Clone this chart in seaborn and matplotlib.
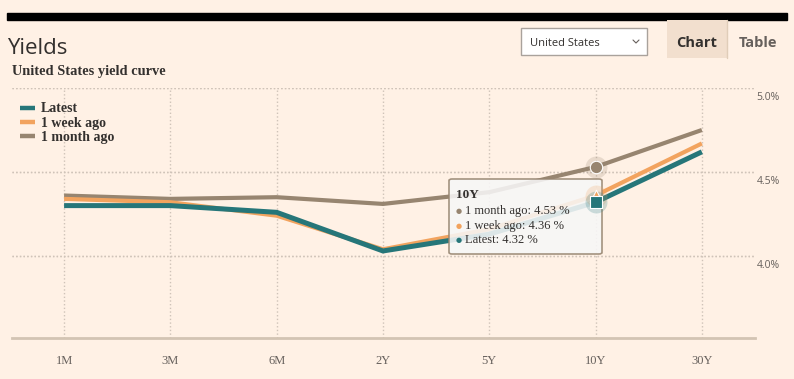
import matplotlib
matplotlib.use('Agg')
import matplotlib.pyplot as plt
import matplotlib.transforms as mtransforms
from matplotlib.patches import Rectangle, FancyBboxPatch
from matplotlib.lines import Line2D
import seaborn as sns
import pandas as pd

MATURITIES = ['1M', '3M', '6M', '2Y', '5Y', '10Y', '30Y']
LATEST = [4.30, 4.30, 4.26, 4.03, 4.13, 4.32, 4.62]
WEEK_AGO = [4.34, 4.32, 4.24, 4.04, 4.16, 4.36, 4.67]
MONTH_AGO = [4.36, 4.34, 4.35, 4.31, 4.38, 4.53, 4.75]
SERIES = ['Latest', '1 week ago', '1 month ago']
YTICKS = [4.0, 4.5, 5.0]
HOVER = '10Y'

BG = '#fff1e5'
COLORS = {'Latest': '#267679', '1 week ago': '#f2a35e', '1 month ago': '#978570'}
TEXT = '#33302e'
GREY = '#66605c'
GRID = '#cfc3b8'
SERIF = 'Liberation Serif'

sns.set_theme(style='white')
plt.rcParams['font.family'] = [SERIF, 'DejaVu Serif']

df = pd.concat([
    pd.DataFrame({'maturity': MATURITIES, 'yield': vals, 'series': name})
    for name, vals in zip(SERIES, [LATEST, WEEK_AGO, MONTH_AGO])
])

fig = plt.figure(figsize=(7.94, 3.79), dpi=100)
fig.patch.set_facecolor(BG)
W, H = 794, 379


def fx(px):
    return px / W


def fy(py):
    return 1 - py / H


ax = fig.add_axes([fx(12), fy(338), fx(755) - fx(12), fy(88) - fy(338)])
ax.set_facecolor(BG)

sns.lineplot(data=df, x='maturity', y='yield', hue='series', hue_order=SERIES[::-1],
             palette=COLORS, sort=False, linewidth=3.0, ax=ax, legend=False, zorder=3,
             solid_capstyle='butt', solid_joinstyle='miter')
ax.lines[-1].set_linewidth(3.6)

ax.set_xlim(-0.49, 6.5)
ax.set_ylim(3.512, 5.0)
ax.set_xlabel('')
ax.set_ylabel('')
ax.set_yticks(YTICKS)
ax.set_yticklabels([])
ax.tick_params(axis='y', length=0)
ax.set_xticks(range(len(MATURITIES)))
ax.set_xticklabels(MATURITIES, fontsize=9, color=GREY)
ax.tick_params(axis='x', length=7, color=GRID, width=1, pad=5, direction='out')
for s in ['top', 'left', 'right']:
    ax.spines[s].set_visible(False)
ax.spines['bottom'].set_color('#d3c4b3')
ax.spines['bottom'].set_linewidth(2)
ax.grid(True, linestyle=':', color=GRID, linewidth=1)
for yv in YTICKS:
    ax.axhline(yv, linestyle=':', color=GRID, linewidth=1, zorder=1)

# y labels at right, below gridline
blend = mtransforms.blended_transform_factory(ax.transAxes, ax.transData)
off = mtransforms.offset_copy(blend, fig=fig, x=0, y=-9, units='dots')
for yv in YTICKS:
    ax.text(1.0336, yv, f'{yv:.1f}%', transform=off, ha='right', va='center',
            fontsize=7.5, color=GREY, family='Open Sans')

# tooltip (inside axes so hover markers sit above it)
ax.add_patch(FancyBboxPatch((fx(449), fy(254)), fx(602) - fx(449), fy(179) - fy(254),
                            boxstyle='round,pad=0,rounding_size=0.004',
                            facecolor='#f7f7f7', edgecolor='#978570', linewidth=1.2,
                            alpha=0.88, transform=fig.transFigure, zorder=6, clip_on=False))
hi = MATURITIES.index(HOVER)
ax.text(fx(456), fy(195), HOVER, ha='left', va='center', fontsize=9.5,
        fontweight='bold', color=TEXT, zorder=7, transform=fig.transFigure)
tip = [('1 month ago', MONTH_AGO, 211), ('1 week ago', WEEK_AGO, 226), ('Latest', LATEST, 240)]
for name, vals, yy in tip:
    ax.text(fx(456), fy(yy), '●', ha='left', va='center', fontsize=5, family='DejaVu Sans',
            color=COLORS[name], zorder=7, transform=fig.transFigure)
    ax.text(fx(465), fy(yy), f'{name}: {vals[hi]:.2f} %', ha='left', va='center',
            fontsize=9, color=TEXT, zorder=7, transform=fig.transFigure)

# hover markers
marks = {'Latest': ('s', LATEST), '1 week ago': ('^', WEEK_AGO), '1 month ago': ('o', MONTH_AGO)}
for name in SERIES[::-1]:
    m, vals = marks[name]
    ax.scatter([hi], [vals[hi]], s=250, marker='o', color=COLORS[name], alpha=0.22,
               linewidths=0, zorder=8)
    ax.scatter([hi], [vals[hi]], s=80, marker=m, color=COLORS[name], edgecolors='white',
               linewidths=0.8, zorder=9)

# legend
leg_y = [108, 122, 136]
for name, yy in zip(SERIES, leg_y):
    fig.add_artist(Line2D([fx(20), fx(35)], [fy(yy), fy(yy)], color=COLORS[name],
                          linewidth=3.2, solid_capstyle='butt'))
    fig.text(fx(41), fy(yy + 1), name, ha='left', va='center', fontsize=10,
             fontweight='bold', color=TEXT)

# header
fig.add_artist(Rectangle((fx(7), fy(20)), fx(787) - fx(7), fy(13) - fy(20), color='black',
                         transform=fig.transFigure))
fig.text(fx(7), fy(49), 'Yields', ha='left', va='center', fontsize=16, color=TEXT,
         family='Open Sans')
fig.text(fx(12), fy(71), 'United States yield curve', ha='left', va='center', fontsize=10.4,
         fontweight='bold', color=TEXT)

# dropdown
fig.add_artist(Rectangle((fx(521), fy(55)), fx(647) - fx(521), fy(28) - fy(55),
                         facecolor='white', edgecolor='#a9a29c', linewidth=1,
                         transform=fig.transFigure))
fig.text(fx(530), fy(44), 'United States', ha='left', va='center', fontsize=8,
         color=TEXT, family='Open Sans')
fig.add_artist(Line2D([fx(633), fx(636), fx(639)], [fy(40), fy(43), fy(40)],
                      color=GREY, linewidth=0.8))

# tabs
fig.add_artist(Rectangle((fx(667), fy(58)), fx(727) - fx(667), fy(20) - fy(58),
                         facecolor='#f2dfce', edgecolor='none', transform=fig.transFigure))
fig.add_artist(Line2D([fx(727), fx(727)], [fy(20), fy(58)], color='#e0cdb9', linewidth=1))
fig.text(fx(697), fy(43), 'Chart', ha='center', va='center', fontsize=10.5,
         fontweight='bold', color=TEXT, family='Open Sans')
fig.text(fx(758), fy(43), 'Table', ha='center', va='center', fontsize=10.5,
         fontweight='bold', color=GREY, family='Open Sans')

fig.savefig('out.png', dpi=100, facecolor=fig.get_facecolor())
